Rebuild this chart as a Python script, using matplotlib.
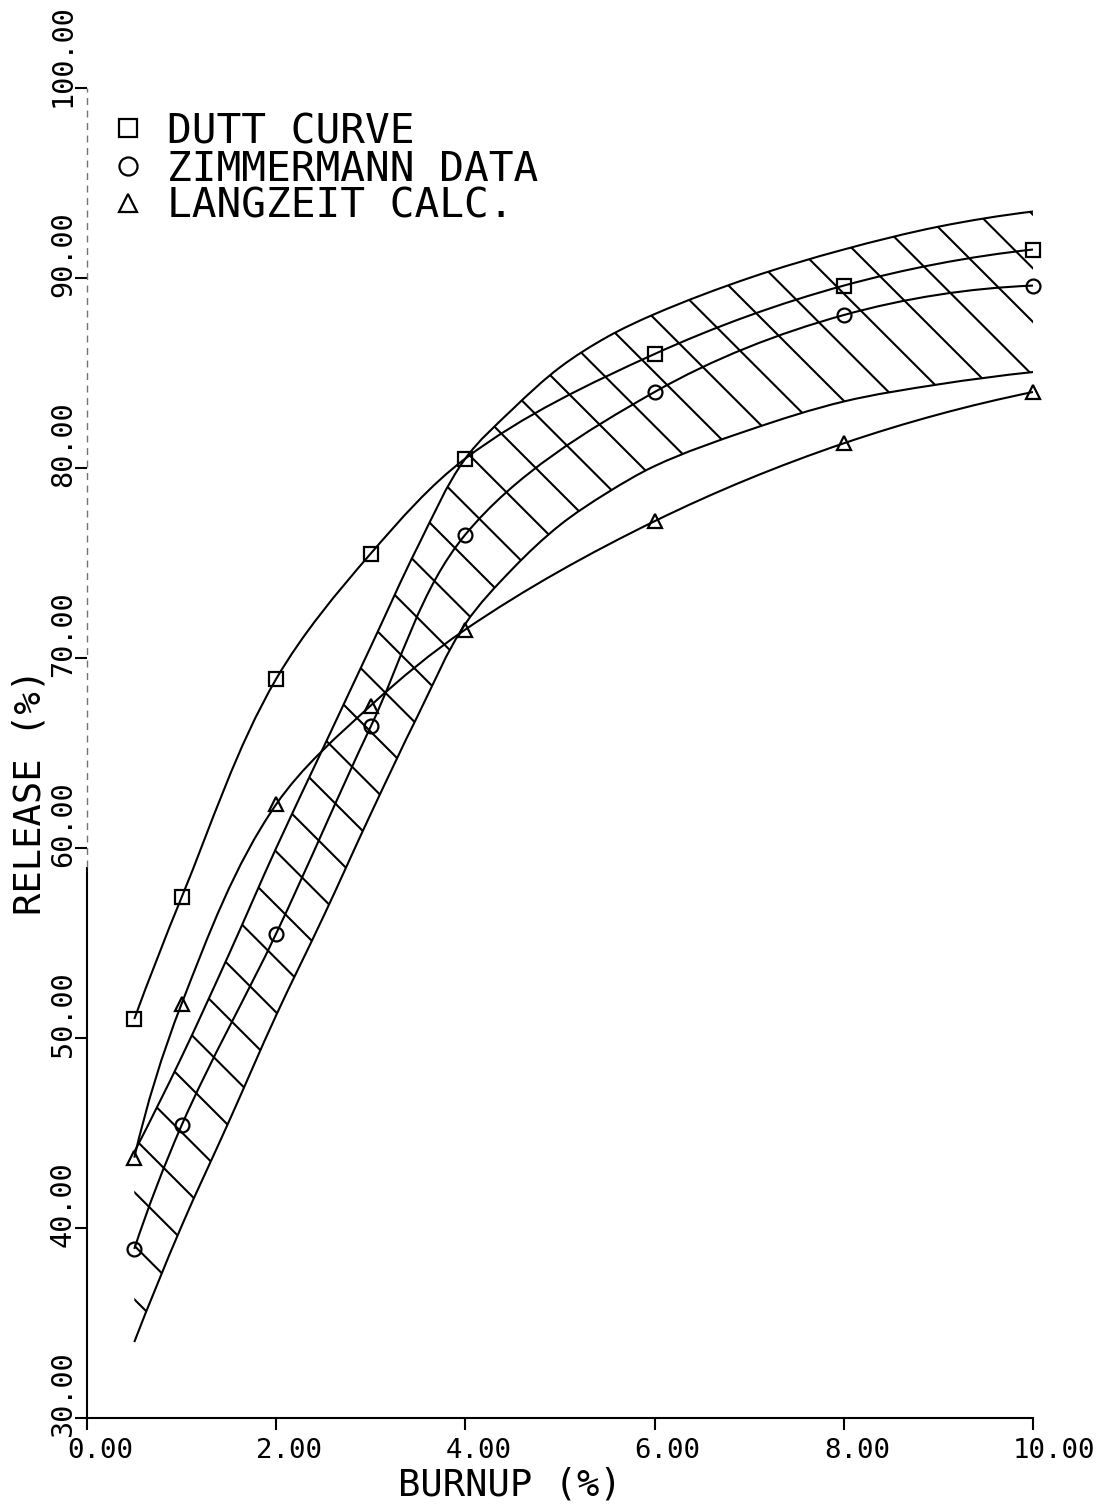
import numpy as np
import matplotlib
matplotlib.use("Agg")
import matplotlib.pyplot as plt
from matplotlib.path import Path
from matplotlib.patches import PathPatch
from matplotlib.collections import LineCollection
from matplotlib.transforms import ScaledTranslation, IdentityTransform

# ---------------- data ----------------
burnup = [0.5, 1.0, 2.0, 3.0, 4.0, 6.0, 8.0, 10.0]
dutt_curve = [51.0, 57.4, 68.9, 75.5, 80.5, 86.0, 89.6, 91.5]
zimmermann = [38.9, 45.4, 55.5, 66.4, 76.5, 84.0, 88.05, 89.6]
langzeit = [43.7, 51.8, 62.3, 67.5, 71.5, 77.2, 81.3, 84.0]

band_x = [0.5, 1.0, 1.5, 2.0, 2.5, 3.0, 3.5, 4.0, 4.5, 5.0, 5.5, 6.0, 7.0, 8.0, 9.0, 10.0]
band_upper = [44.0, 49.0, 54.4, 60.0, 65.3, 70.6, 75.9, 80.5, 83.1, 85.3, 86.9, 88.1, 90.0, 91.5, 92.7, 93.5]
band_lower = [34.0, 40.1, 45.6, 51.2, 56.4, 61.8, 67.0, 71.8, 74.7, 77.0, 78.7, 80.1, 82.0, 83.5, 84.4, 85.05]

x_ticks = [0, 2, 4, 6, 8, 10]
x_tick_labels = ["0.00", "2.00", "4.00", "6.00", "8.00", "10.00"]
y_ticks = [30, 40, 50, 60, 70, 80, 90, 100]
y_tick_labels = ["30.00", "40.00", "50.00", "60.00", "70.00", "80.00", "90.00", "100.00"]

legend_labels = ["DUTT CURVE", "ZIMMERMANN DATA", "LANGZEIT CALC."]
legend_markers = ["s", "o", "^"]
x_label = "BURNUP (%)"
y_label = "RELEASE (%)"

FONT = "DejaVu Sans Mono"
LW = 1.5
W, H, DPI = 1105, 1506, 100
ax_left, ax_right, ax_top, ax_bottom = 87, 1033, 88, 1418
XMIN, XMAX, YMIN, YMAX = 0, 10, 30, 100
SX = (ax_right - ax_left) / (XMAX - XMIN)   # pixels per x unit
SY = (ax_bottom - ax_top) / (YMAX - YMIN)   # pixels per y unit


def smooth_path(x, y):
    """Geometric (parametric) smooth Bezier curve through the points,
    built in screen-proportional space so bends stay smooth."""
    P = np.column_stack([np.asarray(x, float) * SX, np.asarray(y, float) * SY])
    n = len(P)
    chords = np.diff(P, axis=0)
    lens = np.hypot(chords[:, 0], chords[:, 1])
    u = chords / lens[:, None]
    T = np.zeros_like(P)
    for i in range(1, n - 1):
        t = u[i - 1] + u[i]
        T[i] = t / np.hypot(*t)
    # mirrored end tangents
    T[0] = 2 * np.dot(u[0], T[1]) * u[0] - T[1]
    T[-1] = 2 * np.dot(u[-1], T[-2]) * u[-1] - T[-2]
    verts = [P[0]]
    codes = [Path.MOVETO]
    for i in range(n - 1):
        L = lens[i] / 3
        verts += [P[i] + T[i] * L, P[i + 1] - T[i + 1] * L, P[i + 1]]
        codes += [Path.CURVE4] * 3
    verts = [(v[0] / SX, v[1] / SY) for v in verts]
    return verts, codes


fig = plt.figure(figsize=(W / DPI, H / DPI), dpi=DPI)
ax = fig.add_axes([ax_left / W, (H - ax_bottom) / H,
                   (ax_right - ax_left) / W, (ax_bottom - ax_top) / H])
ax.set_xlim(XMIN, XMAX)
ax.set_ylim(YMIN, YMAX)
ax.patch.set_visible(False)

# ---------- band (hatched) ----------
uv, uc = smooth_path(band_x, band_upper)
lv, lc_ = smooth_path(band_x, band_lower)
band_verts = uv + lv[::-1] + [uv[0]]
band_codes = uc + [Path.LINETO] + [Path.CURVE4] * (len(lv) - 1) + [Path.CLOSEPOLY]
band_patch = PathPatch(Path(band_verts, band_codes), transform=ax.transData,
                       facecolor="none", edgecolor="none")
ax.add_patch(band_patch)
for verts, codes in [(uv, uc), (lv, lc_)]:
    ax.add_patch(PathPatch(Path(verts, codes), transform=ax.transData,
                           facecolor="none", edgecolor="black", lw=LW))

# hatch lines: 45 degree lines (pixel space) clipped to the band
ox, oy = ax.transData.transform((XMIN, YMIN))
spacing, offset = 53.6, 5.2
segs = []
for k in range(0, 48):
    c = offset + spacing * k
    segs.append([(ox + c + 300, oy - 300), (ox + c - 1600, oy + 1600)])
hatch = LineCollection(segs, colors="black", linewidths=LW, transform=IdentityTransform())
ax.add_collection(hatch)
hatch.set_clip_path(band_patch)

# ---------- curves with markers ----------
for yvals, mk in zip([dutt_curve, zimmermann, langzeit], legend_markers):
    v, c = smooth_path(burnup, yvals)
    ax.add_patch(PathPatch(Path(v, c), transform=ax.transData,
                           facecolor="none", edgecolor="black", lw=LW))
    ax.plot(burnup, yvals, linestyle="none", marker=mk, markersize=10,
            markerfacecolor="none", markeredgecolor="black", markeredgewidth=1.6,
            clip_on=False, zorder=5)

# ---------- axes ----------
for s in ["top", "right", "left"]:
    ax.spines[s].set_visible(False)
ax.spines["bottom"].set_linewidth(LW)
# left axis line: solid lower part, faint broken upper part (as in the scan)
ax.plot([0, 0], [30, 59], color="black", lw=LW, clip_on=False, solid_capstyle="butt")
ax.plot([0, 0], [59, 100], color="0.45", lw=1.0, clip_on=False, dashes=(5, 4))
ax.set_xticks(x_ticks)
ax.set_yticks(y_ticks)
ax.tick_params(direction="out", length=8.5, width=LW, labelbottom=False, labelleft=False)


def off(dx, dy):
    return ScaledTranslation(dx / DPI, dy / DPI, fig.dpi_scale_trans)


for xt, lab in zip(x_ticks, x_tick_labels):
    ax.text(xt, YMIN, lab, transform=ax.transData + off(-20, -40), ha="left",
            va="baseline", fontsize=19.7, family=FONT, clip_on=False)
for yt, lab in zip(y_ticks, y_tick_labels):
    ax.text(XMIN, yt, lab, transform=ax.transData + off(-16, -19), ha="left",
            va="baseline", rotation=90, rotation_mode="anchor",
            fontsize=20.5, family=FONT, clip_on=False)

fig.text(398 / W, (H - 1495) / H, x_label, ha="left", va="baseline",
         fontsize=26.7, family=FONT)
fig.text(40 / W, (H - 915) / H, y_label, ha="left", va="baseline", rotation=90,
         rotation_mode="anchor", fontsize=26.7, family=FONT)

# ---------- legend ----------
baselines = [143, 181, 218]
for lab, mk, b in zip(legend_labels, legend_markers, baselines):
    fig.text(167 / W, (H - b) / H, lab, ha="left", va="baseline",
             fontsize=29.6, family=FONT)
    ax.plot([128 / W], [(H - b + 15) / H], transform=fig.transFigure, marker=mk,
            markersize=13, markerfacecolor="none", markeredgecolor="black",
            markeredgewidth=1.6, linestyle="none", clip_on=False)

fig.savefig("out.png", dpi=DPI)
